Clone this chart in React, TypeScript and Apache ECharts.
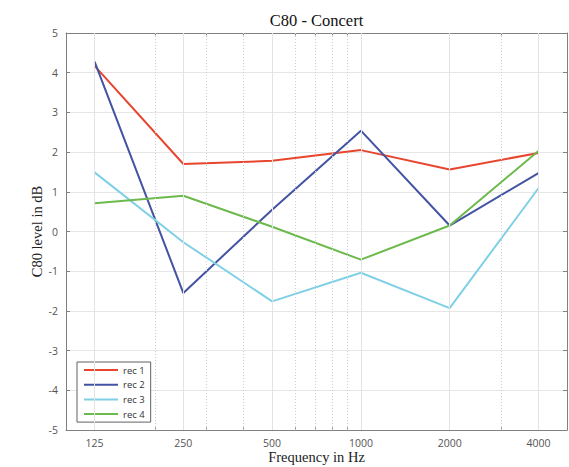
import React, { useEffect, useRef } from "react";
import * as echarts from "echarts";

// Data (octave bands)
const frequencies = [125, 250, 500, 1000, 2000, 4000];
const rec1 = [4.17, 1.7, 1.78, 2.05, 1.56, 1.98];
const rec2 = [4.28, -1.55, 0.55, 2.54, 0.15, 1.47];
const rec3 = [1.49, -0.27, -1.76, -1.04, -1.93, 1.09];
const rec4 = [0.71, 0.9, 0.12, -0.71, 0.15, 2.03];
const seriesNames = ["rec 1", "rec 2", "rec 3", "rec 4"];
const seriesColors = ["#e8452f", "#4353a3", "#7fd0e6", "#6cb94c"];
const minorFrequencies = [200, 300, 400, 600, 700, 800, 900, 3000];
const xMinHz = 100;
const xMaxHz = 5000;
const yTicks = [-5, -4, -3, -2, -1, 0, 1, 2, 3, 4, 5];

const toX = (f: number) => Math.log2(f / 125);

export default function App() {
  const ref = useRef<HTMLDivElement>(null);
  useEffect(() => {
    if (!ref.current) return;
    const chart = echarts.init(ref.current, undefined, { renderer: "svg" });
    const majorX = frequencies.map(toX);
    const minorX = minorFrequencies.map(toX);
    const xMin = toX(xMinHz);
    const xMax = toX(xMaxHz);
    const axisColor = "#808080";
    const sans = "'Open Sans', sans-serif";
    const serif = "'Liberation Serif', serif";
    const baseX = {
      type: "value" as const,
      min: xMin,
      max: xMax,
      splitLine: { show: false },
    };
    const data = [rec1, rec2, rec3, rec4];
    chart.setOption({
      animation: false,
      backgroundColor: "#ffffff",
      grid: { left: 66, right: 2, top: 33, bottom: 37, containLabel: false, outerBoundsMode: "none" },
      graphic: [
        {
          type: "text",
          x: 316.5,
          y: 20,
          style: {
            text: "C80 - Concert",
            font: `16.5px ${serif}`,
            fill: "#111",
            textAlign: "center",
            textVerticalAlign: "middle",
          },
        },
      ],
      legend: {
        orient: "vertical",
        left: 77,
        top: 362,
        data: seriesNames,
        backgroundColor: "#fff",
        borderColor: "#606060",
        borderWidth: 1,
        borderRadius: 0,
        padding: [3, 6, 3, 6],
        itemWidth: 34,
        itemHeight: 9,
        itemGap: 4.7,
        itemStyle: { opacity: 0 },
        textStyle: { fontSize: 9.5, color: "#333", fontFamily: sans },
      },
      xAxis: [
        {
          ...baseX,
          position: "bottom",
          name: "Frequency in Hz",
          nameLocation: "middle",
          nameGap: 19,
          nameMoveOverlap: false,
          nameTextStyle: { fontFamily: serif, fontSize: 14.5, color: "#222" },
          axisLine: { show: true, onZero: false, lineStyle: { color: axisColor } },
          axisTick: { show: true, inside: true, length: 4, customValues: majorX, lineStyle: { color: axisColor } },
          axisLabel: {
            customValues: majorX,
            formatter: (v: number) => String(Math.round(125 * Math.pow(2, v))),
            fontSize: 10.5,
            color: "#555",
            fontFamily: sans,
            margin: 7,
          },
        },
        {
          ...baseX,
          position: "bottom",
          axisLine: { show: false, onZero: false },
          axisTick: { show: true, inside: true, length: 2.5, customValues: minorX, lineStyle: { color: axisColor } },
          axisLabel: { show: false },
        },
        {
          ...baseX,
          position: "top",
          axisLine: { show: true, onZero: false, lineStyle: { color: axisColor } },
          axisTick: { show: true, inside: true, length: 4, customValues: majorX, lineStyle: { color: axisColor } },
          axisLabel: { show: false },
        },
        {
          ...baseX,
          position: "top",
          axisLine: { show: false, onZero: false },
          axisTick: { show: true, inside: true, length: 2.5, customValues: minorX, lineStyle: { color: axisColor } },
          axisLabel: { show: false },
        },
      ],
      yAxis: [
        {
          type: "value",
          min: yTicks[0],
          max: yTicks[yTicks.length - 1],
          interval: 1,
          position: "left",
          name: "C80 level in dB",
          nameLocation: "middle",
          nameGap: 22,
          nameMoveOverlap: false,
          nameTextStyle: { fontFamily: serif, fontSize: 14.5, color: "#222" },
          axisLine: { show: true, onZero: false, lineStyle: { color: axisColor } },
          axisTick: { show: true, inside: true, length: 4, lineStyle: { color: axisColor } },
          axisLabel: { fontSize: 10.5, color: "#555", fontFamily: sans, margin: 8 },
          splitLine: { show: true, lineStyle: { color: "#e6e6e6", width: 1 } },
        },
        {
          type: "value",
          min: yTicks[0],
          max: yTicks[yTicks.length - 1],
          interval: 1,
          position: "right",
          axisLine: { show: true, onZero: false, lineStyle: { color: axisColor } },
          axisTick: { show: true, inside: true, length: 4, lineStyle: { color: axisColor } },
          axisLabel: { show: false },
          splitLine: { show: false },
        },
      ],
      series: [
        {
          name: "grid",
          type: "line",
          data: [],
          z: 1,
          silent: true,
          markLine: {
            silent: true,
            symbol: ["none", "none"],
            label: { show: false },
            animation: false,
            data: [
              ...majorX.map((v) => ({ xAxis: v, lineStyle: { color: "#e3e3e3", width: 1, type: "solid" } })),
              ...minorX.map((v) => ({ xAxis: v, lineStyle: { color: "#cfcfcf", width: 1, type: [1, 2] } })),
            ],
          },
        },
        ...data.map((vals, i) => ({
          name: seriesNames[i],
          type: "line",
          z: 3,
          data: vals.map((v, j) => [toX(frequencies[j]), v]),
          symbol: "none",
          showSymbol: false,
          lineStyle: { color: seriesColors[i], width: 2 },
          itemStyle: { color: seriesColors[i] },
        })),
      ],
    });
    return () => chart.dispose();
  }, []);
  return <div ref={ref} style={{ width: 569, height: 467, position: "absolute", left: 0, top: 0 }} />;
}
